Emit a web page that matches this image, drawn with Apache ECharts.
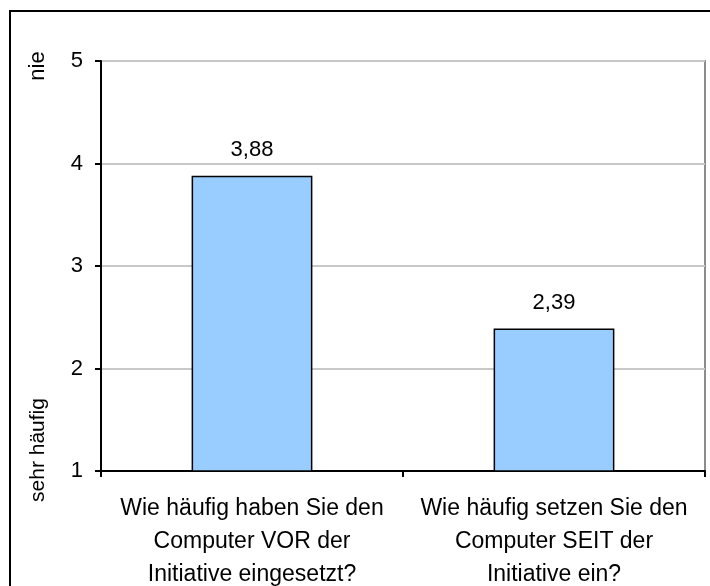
<!DOCTYPE html>
<html>
<head>
<meta charset="utf-8">
<script src="https://cdn.jsdelivr.net/npm/echarts@6/dist/echarts.min.js"></script>
<style>
html,body{margin:0;padding:0;background:#fff;}
#c{width:710px;height:586px;}
</style>
</head>
<body>
<div id="c"></div>
<script>
const categories = [
  'Wie häufig haben Sie den\nComputer VOR der\nInitiative eingesetzt?',
  'Wie häufig setzen Sie den\nComputer SEIT der\nInitiative ein?'
];
const values = [3.88, 2.39];
const valueLabels = ['3,88', '2,39'];
const yTopLabel = 'nie';
const yBottomLabel = 'sehr häufig';

const FONT = '"Liberation Sans", Arial, sans-serif';
const FS = 22;
const chart = echarts.init(document.getElementById('c'), null, {renderer: 'canvas'});
chart.setOption({
  animation: false,
  backgroundColor: '#fff',
  grid: {left: 101, right: 5, top: 61, bottom: 115, show: true, borderColor: '#8c8c8c', borderWidth: 2,
         containLabel: false, outerBoundsMode: 'none'},
  xAxis: {
    type: 'category',
    data: categories,
    axisLine: {lineStyle: {color: '#000', width: 2}},
    axisTick: {show: true, length: 6, lineStyle: {color: '#000', width: 2}},
    axisLabel: {color: '#000', fontFamily: FONT, fontSize: 23, lineHeight: 33, margin: 21, interval: 0}
  },
  yAxis: {
    type: 'value', min: 1, max: 5, interval: 1,
    axisLine: {show: true, lineStyle: {color: '#000', width: 2}},
    axisTick: {show: true, length: 6, lineStyle: {color: '#000', width: 2}},
    axisLabel: {color: '#000', fontFamily: FONT, fontSize: FS, margin: 18},
    splitLine: {show: true, lineStyle: {color: '#c8c8c8', width: 2}}
  },
  series: [{
    type: 'bar',
    data: values,
    barWidth: '40%',
    itemStyle: {color: '#99CCFF', borderColor: '#000', borderWidth: 1.5},
    label: {
      show: true, position: 'top', distance: 15,
      color: '#000', fontFamily: FONT, fontSize: FS,
      formatter: p => valueLabels[p.dataIndex]
    }
  }],
  graphic: [
    {type: 'rect', shape: {x: 10, y: 11, width: 900, height: 800}, style: {fill: 'none', stroke: '#000', lineWidth: 2}, silent: true},
    {type: 'text', x: 38, y: 66, rotation: Math.PI / 2,
     style: {text: yTopLabel, fill: '#000', font: '22px ' + FONT, textAlign: 'center', textVerticalAlign: 'middle'}},
    {type: 'text', x: 38, y: 450, rotation: Math.PI / 2,
     style: {text: yBottomLabel, fill: '#000', font: '21px ' + FONT, textAlign: 'center', textVerticalAlign: 'middle'}}
  ]
});
</script>
</body>
</html>
